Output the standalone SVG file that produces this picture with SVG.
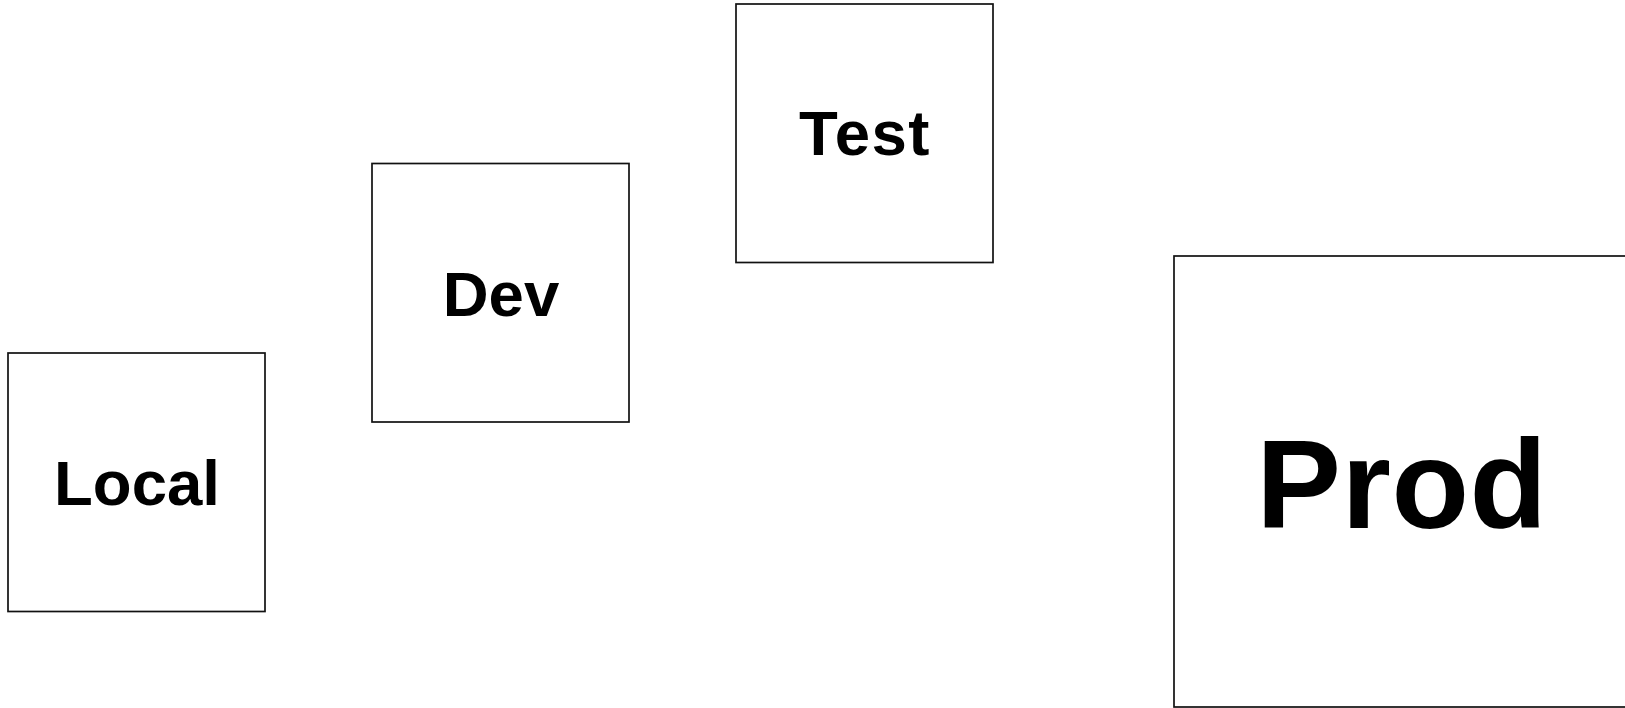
<svg xmlns="http://www.w3.org/2000/svg" width="1625" height="708" viewBox="0 0 1625 708">
<style>
.box{fill:#fff;stroke:#111;stroke-width:1.7}
.lbl{font-family:"Liberation Sans",Arial,sans-serif;font-weight:bold;fill:#000;text-anchor:middle}
</style>
<rect width="1625" height="708" fill="#fff"/>
<g id="connectors"></g>
<g id="local">
<rect class="box" x="8" y="353" width="257" height="258.5"/>
<text class="lbl" x="137" y="505" font-size="63.5">Local</text>
</g>
<g id="dev">
<rect class="box" x="372" y="163.5" width="257" height="258.5"/>
<text class="lbl" x="501" y="315.5" font-size="63.5">Dev</text>
</g>
<g id="test">
<rect class="box" x="736" y="4" width="257" height="258.5"/>
<text class="lbl" x="865" y="155" font-size="63.5" letter-spacing="1.5">Test</text>
</g>
<g id="prod">
<rect class="box" x="1174" y="256" width="460" height="451"/>
<text class="lbl" x="1402" y="528" font-size="127" letter-spacing="0.5">Prod</text>
</g>
</svg>
